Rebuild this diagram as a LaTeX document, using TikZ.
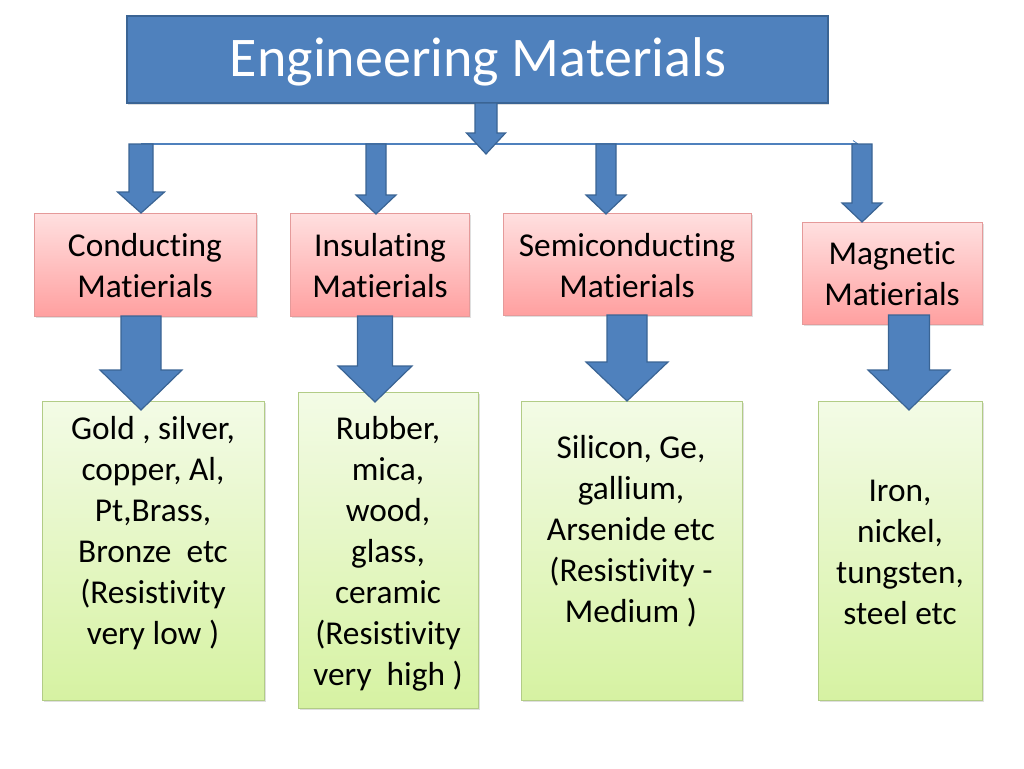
\documentclass[tikz,border=0pt]{standalone}
\usepackage{fontspec}
\setmainfont{Carlito}[Ligatures=NoCommon, RawFeature=-clig, RawFeature=-calt]
\usetikzlibrary{fit,shadows}
\definecolor{blu}{HTML}{4F81BD}
\definecolor{bluD}{HTML}{3A6494}
\definecolor{pinkT}{HTML}{FFE0E0}
\definecolor{pinkB}{HTML}{FFA0A0}
\definecolor{pinkE}{HTML}{E59A9A}
\definecolor{grnT}{HTML}{F3FBE6}
\definecolor{grnB}{HTML}{D6F2A2}
\definecolor{grnE}{HTML}{B2CC86}
% #1 centre x, #2 shaft half width, #3 head half width, #4 top y, #5 head start y, #6 tip y
\newcommand\blockarr[6]{%
  \draw[blockarrow] (#1-#2,#4) -- (#1+#2,#4) -- (#1+#2,#5) -- (#1+#3,#5) -- (#1,#6)
    -- (#1-#3,#5) -- (#1-#2,#5) -- cycle;}
\tikzset{
  blockarrow/.style={fill=blu, draw=bluD, line width=0.9pt, line join=miter},
  titlebox/.style={fill=blu, draw=bluD, line width=1.5pt, inner sep=0pt,
    drop shadow={opacity=0.25, shadow xshift=1pt, shadow yshift=-1.5pt},
    text=white, font=\fontsize{42}{50}\selectfont},
  pinkbox/.style={top color=pinkT, bottom color=pinkB, draw=pinkE, line width=0.6pt,
    inner sep=0pt, align=center, font=\fontsize{25}{30.75}\selectfont,
    drop shadow={opacity=0.25, shadow xshift=1.2pt, shadow yshift=-1.5pt}},
  pinktext/.style={inner sep=0pt, align=center, font=\fontsize{25}{30.75}\selectfont},
  grnbox/.style={top color=grnT, bottom color=grnB, draw=grnE, line width=0.6pt,
    inner sep=0pt, drop shadow={opacity=0.25, shadow xshift=1.2pt, shadow yshift=-1.5pt}},
  grntext/.style={inner sep=0pt, align=center, font=\fontsize{25}{30.75}\selectfont},
  hline/.style={draw=blu, line width=0.8pt}
}
\begin{document}
\begin{tikzpicture}[x=0.75pt,y=-0.75pt]
\useasboundingbox (0,0) rectangle (1024,768);
% title
\node[titlebox, fit={(127,16) (828,103)}] (em) {};
\node[inner sep=0pt, text=white, font=\fontsize{42}{50}\selectfont] (emt) at (478,62) {Engineering Materials};
% horizontal connector
\coordinate (hl) at (141,144);
\coordinate (hr) at (858,144);
\draw[hline] (hl) -- (hr);
\draw[hline, line width=0.6pt] (853,140.5) -- (hr);
% level 1 boxes
\node[pinkbox, fit={(34,213) (256,316)}] (c1) {};
\node[pinktext] (c1t) at (145,265.5) {Conducting\\Matierials};
\node[pinkbox, fit={(290,213) (469,316)}] (c2) {};
\node[pinktext] (c2t) at (380,265.5) {Insulating\\Matierials};
\node[pinkbox, fit={(503,213) (751,315)}] (c3) {};
\node[pinktext] (c3t) at (627,265.5) {Semiconducting\\Matierials};
\node[pinkbox, fit={(802,222) (982,324)}] (c4) {};
\node[pinktext] (c4t) at (892,274) {Magnetic\\Matierials};
% level 2 boxes
\node[grnbox, fit={(42,401) (264,700)}] (g1) {};
\node[grntext] (g1t) at (153,533) {Gold , silver,\\copper, Al,\\Pt,Brass,\\Bronze\ \ etc\\(Resistivity\\very low )};
\node[grnbox, fit={(298,392) (478,708)}] (g2) {};
\node[grntext] (g2t) at (388,553.5) {Rubber,\\mica,\\wood,\\glass,\\ceramic\\(Resistivity\\very\ \ high )};
\node[grnbox, fit={(521,401) (742,700)}] (g3) {};
\node[grntext] (g3t) at (631,531.5) {Silicon, Ge,\\gallium,\\Arsenide etc\\(Resistivity -\\Medium )};
\node[grnbox, fit={(818,401) (982,700)}] (g4) {};
\node[grntext] (g4t) at (900,552) {Iron,\\nickel,\\tungsten,\\steel etc};
% block arrows
\blockarr{486}{11}{19.5}{103}{133}{154}
\blockarr{141}{12}{23.5}{144}{192}{213}
\blockarr{376}{10}{20}{144}{195}{214}
\blockarr{606}{10}{20}{144}{195}{214}
\blockarr{862}{10}{20}{144}{203}{222}
\blockarr{141}{20}{41}{316}{370}{410}
\blockarr{375}{17.5}{37}{316}{366}{402}
\blockarr{627}{20}{41}{315}{362}{401}
\blockarr{909}{20.5}{41}{315}{370}{410}
\end{tikzpicture}
\end{document}
